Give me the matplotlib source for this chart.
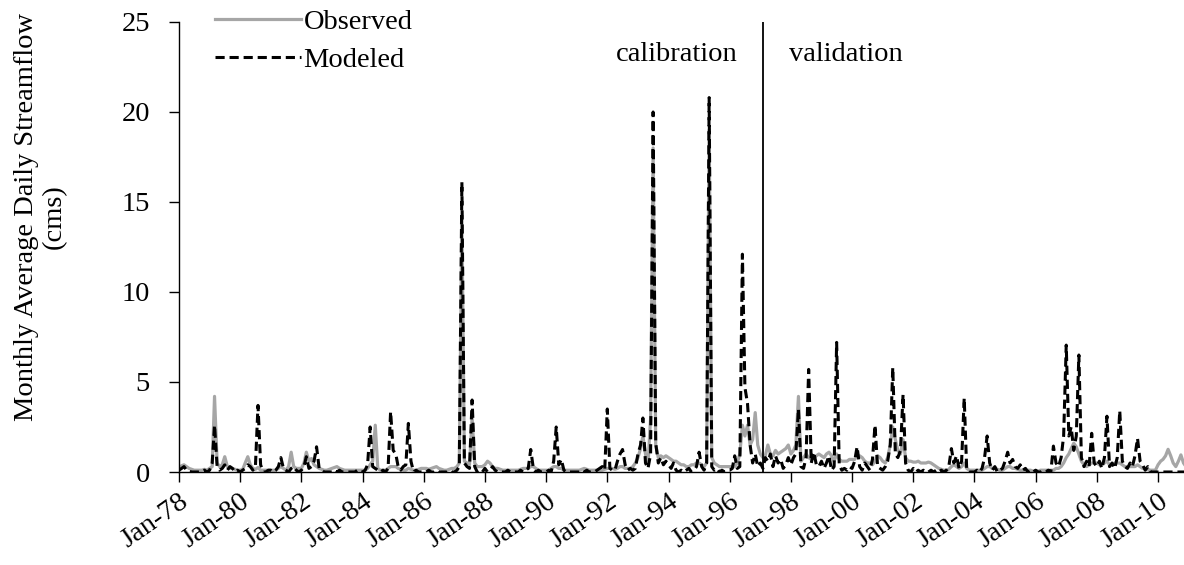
import matplotlib
matplotlib.use("Agg")
import matplotlib.pyplot as plt
import matplotlib.dates as mdates
import pandas as pd

plt.rcParams["font.family"] = ["Liberation Serif", "DejaVu Serif"]

START = "1978-01-01"
SPLIT_DATE = "1997-02-01"
X_END = "2010-11-07"

# monthly average daily streamflow (cms), one row per year Jan..Dec
observed = [
    0.2, 0.35, 0.4, 0.3, 0.2, 0.15, 0.1, 0.1, 0.1, 0.1, 0.15, 0.1,      # 1978
    0.2, 0.3, 4.2, 0.5, 0.3, 0.4, 0.85, 0.3, 0.2, 0.2, 0.15, 0.1,       # 1979
    0.1, 0.15, 0.5, 0.85, 0.4, 0.2, 0.15, 0.25, 0.1, 0.1, 0.1, 0.1,     # 1980
    0.1, 0.1, 0.1, 0.2, 0.3, 0.2, 0.1, 0.3, 1.1, 0.3, 0.2, 0.2,         # 1981
    0.2, 0.5, 1.1, 0.6, 0.75, 0.4, 0.3, 0.2, 0.15, 0.1, 0.1, 0.15,      # 1982
    0.2, 0.25, 0.3, 0.2, 0.15, 0.1, 0.1, 0.1, 0.1, 0.1, 0.1, 0.1,       # 1983
    0.1, 0.1, 0.2, 0.4, 0.6, 2.6, 0.2, 0.1, 0.1, 0.1, 0.2, 0.3,         # 1984
    0.3, 0.3, 0.2, 0.15, 0.1, 0.1, 0.2, 0.15, 0.1, 0.1, 0.15, 0.2,      # 1985
    0.2, 0.2, 0.15, 0.2, 0.25, 0.3, 0.2, 0.15, 0.1, 0.1, 0.15, 0.2,     # 1986
    0.2, 0.3, 0.5, 14.0, 0.6, 0.5, 0.4, 3.0, 0.5, 0.3, 0.3, 0.3,        # 1987
    0.4, 0.6, 0.5, 0.3, 0.2, 0.2, 0.15, 0.1, 0.1, 0.1, 0.1, 0.1,        # 1988
    0.1, 0.1, 0.15, 0.2, 0.2, 0.2, 0.3, 0.3, 0.2, 0.1, 0.1, 0.1,        # 1989
    0.1, 0.1, 0.2, 0.3, 0.3, 0.2, 0.2, 0.1, 0.1, 0.1, 0.1, 0.1,         # 1990
    0.1, 0.1, 0.15, 0.2, 0.15, 0.1, 0.1, 0.1, 0.1, 0.1, 0.1, 0.15,      # 1991
    0.2, 0.2, 0.2, 0.15, 0.2, 0.3, 0.3, 0.2, 0.2, 0.2, 0.3, 0.5,        # 1992
    0.8, 1.3, 2.0, 1.0, 0.4, 3.0, 18.0, 1.5, 0.8, 0.9, 0.8, 0.9,        # 1993
    0.8, 0.7, 0.6, 0.6, 0.5, 0.4, 0.4, 0.3, 0.3, 0.4, 0.4, 0.5,         # 1994
    0.5, 0.4, 0.3, 0.5, 19.0, 0.8, 0.5, 0.4, 0.3, 0.3, 0.3, 0.3,        # 1995
    0.3, 0.3, 0.3, 0.5, 1.0, 2.6, 2.0, 2.6, 1.5, 1.8, 3.3, 1.5,         # 1996
    1.0, 0.8, 0.9, 1.5, 1.0, 0.9, 1.2, 1.0, 1.1, 1.2, 1.3, 1.5,         # 1997
    1.0, 1.2, 1.5, 4.2, 0.6, 0.8, 1.0, 0.8, 0.7, 0.8, 0.9, 1.0,         # 1998
    0.9, 0.8, 1.0, 1.1, 0.9, 0.6, 1.0, 0.7, 0.6, 0.6, 0.6, 0.7,         # 1999
    0.7, 0.7, 0.9, 0.9, 0.8, 0.6, 0.5, 0.5, 0.4, 0.6, 0.9, 0.8,         # 2000
    0.6, 0.5, 0.8, 1.5, 2.5, 1.8, 1.2, 1.0, 1.8, 0.8, 0.6, 0.6,         # 2001
    0.55, 0.55, 0.6, 0.5, 0.5, 0.5, 0.55, 0.5, 0.4, 0.3, 0.2, 0.15,     # 2002
    0.1, 0.1, 0.15, 0.3, 0.4, 0.3, 0.2, 0.3, 0.5, 0.2, 0.1, 0.1,        # 2003
    0.1, 0.1, 0.1, 0.1, 0.2, 0.3, 0.3, 0.2, 0.2, 0.15, 0.1, 0.1,        # 2004
    0.2, 0.3, 0.3, 0.2, 0.2, 0.15, 0.1, 0.1, 0.1, 0.1, 0.1, 0.05,       # 2005
    0.05, 0.05, 0.1, 0.1, 0.1, 0.1, 0.1, 0.1, 0.2, 0.2, 0.3, 0.5,       # 2006
    0.8, 1.0, 1.3, 1.6, 1.4, 1.0, 0.6, 0.4, 0.3, 0.4, 0.5, 0.5,         # 2007
    0.5, 0.4, 0.4, 0.5, 0.6, 0.4, 0.4, 0.5, 0.5, 0.5, 0.4, 0.3,         # 2008
    0.3, 0.3, 0.3, 0.3, 0.4, 0.3, 0.2, 0.2, 0.15, 0.1, 0.1, 0.1,        # 2009
    0.4, 0.6, 0.7, 0.9, 1.26, 0.9, 0.5, 0.3, 0.6, 0.95, 0.5, 0.3,       # 2010
]

modeled = [
    0.1, 0.2, 0.3, 0.1, 0.05, 0.0, 0.0, 0.0, 0.0, 0.05, 0.1, 0.0,       # 1978
    0.1, 0.5, 2.6, 0.3, 0.1, 0.2, 0.4, 0.1, 0.3, 0.2, 0.0, 0.1,         # 1979
    0.0, 0.1, 0.2, 0.4, 0.3, 0.1, 0.3, 3.7, 0.4, 0.0, 0.0, 0.1,         # 1980
    0.1, 0.0, 0.1, 0.3, 0.8, 0.2, 0.1, 0.0, 0.2, 0.3, 0.1, 0.0,         # 1981
    0.1, 0.3, 0.85, 0.2, 0.3, 0.6, 1.4, 0.2, 0.1, 0.0, 0.0, 0.0,        # 1982
    0.0, 0.1, 0.0, 0.1, 0.0, 0.0, 0.0, 0.0, 0.0, 0.0, 0.1, 0.0,         # 1983
    0.0, 0.1, 0.4, 2.5, 0.3, 0.2, 0.1, 0.0, 0.1, 0.0, 0.2, 3.35,        # 1984
    1.2, 1.0, 0.3, 0.1, 0.3, 0.4, 2.7, 0.6, 0.0, 0.1, 0.0, 0.0,         # 1985
    0.0, 0.0, 0.1, 0.0, 0.0, 0.1, 0.0, 0.0, 0.0, 0.0, 0.1, 0.0,         # 1986
    0.0, 0.1, 0.3, 16.1, 0.5, 0.3, 0.2, 4.0, 0.3, 0.0, 0.1, 0.0,        # 1987
    0.2, 0.0, 0.1, 0.3, 0.1, 0.0, 0.0, 0.0, 0.0, 0.1, 0.0, 0.0,         # 1988
    0.0, 0.0, 0.1, 0.0, 0.1, 0.2, 1.25, 0.2, 0.0, 0.1, 0.0, 0.0,        # 1989
    0.0, 0.1, 0.0, 0.6, 2.5, 0.4, 0.7, 0.1, 0.0, 0.0, 0.0, 0.0,         # 1990
    0.0, 0.0, 0.1, 0.0, 0.1, 0.0, 0.0, 0.0, 0.1, 0.2, 0.3, 0.1,         # 1991
    3.5, 0.2, 0.1, 0.1, 0.6, 1.0, 1.25, 0.4, 0.1, 0.2, 0.1, 0.2,        # 1992
    1.0, 1.5, 3.0, 0.5, 0.2, 1.0, 20.0, 1.6, 0.5, 0.8, 0.4, 0.6,        # 1993
    0.4, 0.2, 0.5, 0.1, 0.0, 0.1, 0.0, 0.1, 0.2, 0.0, 0.1, 0.3,         # 1994
    1.1, 0.3, 0.1, 0.5, 20.8, 0.3, 0.1, 0.2, 0.0, 0.1, 0.0, 0.1,        # 1995
    0.1, 0.2, 0.9, 0.2, 0.3, 12.1, 4.7, 3.8, 1.5, 0.5, 1.0, 0.3,        # 1996
    0.5, 0.2, 0.8, 0.6, 1.0, 0.3, 0.9, 0.5, 0.7, 0.2, 0.4, 0.8,         # 1997
    0.4, 0.8, 1.0, 3.5, 0.3, 0.2, 0.8, 5.7, 0.5, 1.1, 0.4, 0.3,         # 1998
    0.6, 0.2, 0.5, 0.9, 0.1, 0.3, 7.2, 0.4, 0.1, 0.2, 0.1, 0.3,         # 1999
    0.2, 0.6, 1.4, 0.3, 0.1, 0.5, 0.3, 0.1, 0.7, 2.6, 0.3, 0.2,         # 2000
    0.1, 0.3, 0.6, 1.5, 5.8, 1.0, 0.8, 1.2, 4.3, 0.5, 0.1, 0.0,         # 2001
    0.2, 0.0, 0.1, 0.0, 0.1, 0.0, 0.0, 0.1, 0.0, 0.1, 0.0, 0.1,         # 2002
    0.0, 0.1, 0.3, 1.3, 0.5, 0.9, 0.2, 0.6, 4.1, 0.1, 0.0, 0.0,         # 2003
    0.0, 0.1, 0.0, 0.2, 0.8, 2.0, 0.5, 0.1, 0.3, 0.0, 0.1, 0.2,         # 2004
    0.6, 1.1, 0.5, 0.7, 0.3, 0.2, 0.4, 0.1, 0.2, 0.0, 0.1, 0.0,         # 2005
    0.1, 0.0, 0.0, 0.1, 0.0, 0.1, 0.0, 1.44, 0.5, 0.3, 0.8, 2.0,        # 2006
    7.05, 2.0, 2.5, 1.2, 2.0, 6.5, 0.8, 0.3, 0.6, 0.3, 2.15, 0.5,       # 2007
    0.3, 0.6, 0.2, 0.8, 3.1, 0.3, 0.5, 0.2, 0.8, 3.4, 0.6, 0.3,         # 2008
    0.2, 0.5, 0.3, 0.9, 1.87, 0.6, 0.4, 0.1, 0.3, 0.0, 0.0, 0.0,        # 2009
    0.0, 0.0, 0.0, 0.0, 0.0, 0.0, 0.0, 0.0, 0.0, 0.0, 0.0, 0.0,         # 2010
]

dates = pd.date_range(START, periods=len(observed), freq="MS")

fig = plt.figure(figsize=(11.84, 5.65), dpi=100)
ax = fig.add_axes([0.1512, 0.1646, 0.8488, 0.7965])

ax.plot(dates, observed, color="#A6A6A6", linewidth=2.3, solid_joinstyle="round",
        label="Observed")
ax.plot(dates, modeled, color="black", linewidth=2.2, linestyle=(0, (3, 1.6)),
        label="Modeled")

# calibration / validation split
split = pd.Timestamp(SPLIT_DATE)
ax.axvline(split, color="black", linewidth=1.3)
ax.text(pd.Timestamp("1996-04-01"), 23.2, "calibration", ha="right", va="center",
        fontsize=20.5)
ax.text(pd.Timestamp("1997-12-15"), 23.2, "validation", ha="left", va="center",
        fontsize=20.5)

ax.set_xlim(pd.Timestamp(START), pd.Timestamp(X_END))
ax.set_ylim(0, 25)
ax.set_yticks(range(0, 26, 5))
ax.xaxis.set_major_locator(mdates.YearLocator(2, month=1, day=1))
ax.xaxis.set_major_formatter(mdates.DateFormatter("%b-%y"))

for side in ("top", "right"):
    ax.spines[side].set_visible(False)
for side in ("left", "bottom"):
    ax.spines[side].set_color("black")
    ax.spines[side].set_linewidth(1.0)

ax.tick_params(axis="y", direction="out", length=7, width=1, labelsize=20.5, pad=14)
ax.tick_params(axis="x", direction="out", length=7, width=1, labelsize=20.5, pad=5)
for lbl in ax.get_xticklabels():
    lbl.set_rotation(35)
    lbl.set_ha("right")
    lbl.set_rotation_mode("anchor")

ax.set_ylabel("Monthly Average Daily Streamflow\n(cms)", fontsize=20.5,
              linespacing=1.15)
ax.yaxis.set_label_coords(-0.112, 0.567)

ax.legend(loc="upper left", bbox_to_anchor=(0.036, 1.029), frameon=False,
          fontsize=20.5, handlelength=3.0, handletextpad=0.1, labelspacing=0.42,
          borderaxespad=0.0, borderpad=0.0)

fig.savefig("out.png", dpi=100)
